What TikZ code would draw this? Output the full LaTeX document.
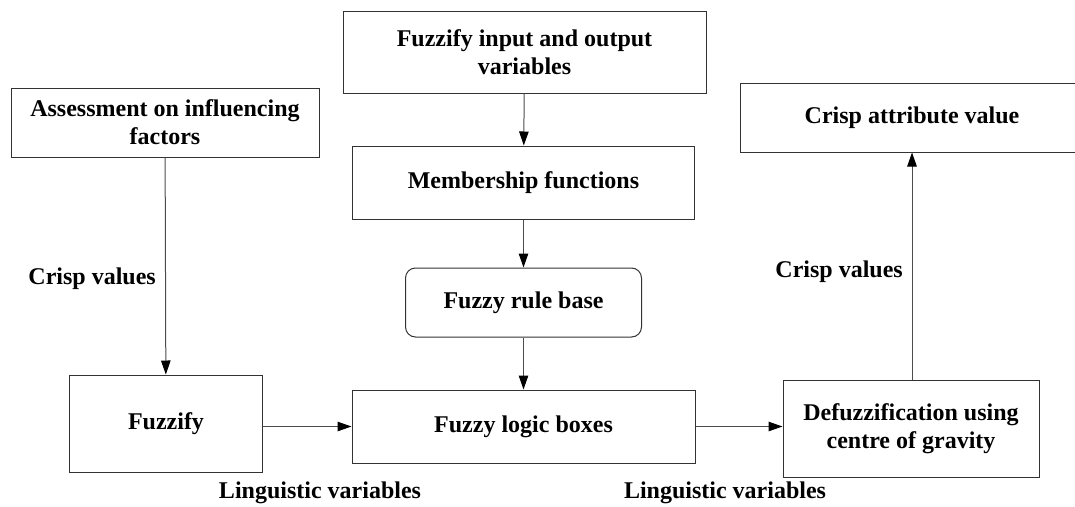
\documentclass[tikz,border=0pt]{standalone}
\usepackage{fontspec}
\setmainfont{Liberation Serif}
\usetikzlibrary{arrows.meta}
\begin{document}
\begin{tikzpicture}[x=1pt,y=-1pt,
  box/.style={draw=black!80, line width=1pt, rectangle, inner sep=0pt, align=center, font=\fontsize{24}{28}\selectfont\bfseries},
  rbox/.style={box, rounded corners=10pt},
  lbl/.style={inner sep=0pt, font=\fontsize{24}{28}\selectfont\bfseries},
  arr/.style={draw=black!70, line width=1pt, -{Triangle[length=14pt,width=9.5pt,color=black]}}
]
\useasboundingbox (0,0) rectangle (1075,506);
\clip (0,0) rectangle (1075,506);
\node[box, minimum width=363pt, minimum height=82pt] (fi) at (524.5,52) {Fuzzify input and output\\variables};
\node[box, minimum width=308pt, minimum height=69pt] (as) at (165,122.5) {Assessment on influencing\\factors};
\node[box, minimum width=342pt, minimum height=73pt] (mf) at (523.5,182.5) {Membership functions};
\node[box, minimum width=344pt, minimum height=69pt] (ca) at (912,117.5) {Crisp attribute value};
\node[rbox, minimum width=236pt, minimum height=69pt] (rb) at (523.5,302.5) {Fuzzy rule base};
\node[box, minimum width=193pt, minimum height=97pt] (fz) at (166,423.5) {Fuzzify};
\node[box, minimum width=343pt, minimum height=73pt] (fl) at (523.5,426.5) {Fuzzy logic boxes};
\node[box, minimum width=256pt, minimum height=97pt] (df) at (911,428.5) {Defuzzification using\\centre of gravity};
\draw[arr] (as) -- (fz);
\draw[arr] (fi) -- (mf);
\draw[arr] (mf) -- (rb);
\draw[arr] (rb) -- (fl);
\draw[arr] (fz.east |- fl.west) -- (fl.west);
\draw[arr] (fl.east) -- (fl.east -| df.west);
\draw[arr] (df.north -| ca.south) -- (ca.south);
\node[lbl, anchor=east] (cv1) at (156,279) {Crisp values};
\node[lbl, anchor=east] (cv2) at (903,272) {Crisp values};
\node[lbl] (lv1) at (320,493) {Linguistic variables};
\node[lbl] (lv2) at (725,493) {Linguistic variables};
\end{tikzpicture}
\end{document}
